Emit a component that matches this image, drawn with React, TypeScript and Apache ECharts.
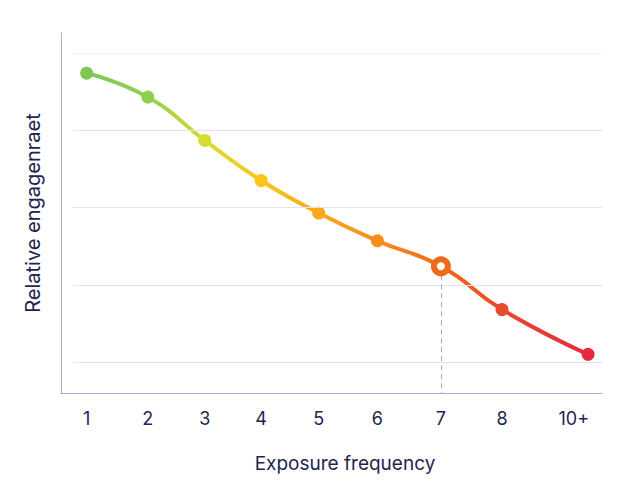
import React, { useEffect, useRef } from "react";
import * as echarts from "echarts";

const categories = ["1", "2", "3", "4", "5", "6", "7", "8", "10+"];
const xPositions = [1, 2.03, 2.99, 3.94, 4.91, 5.9, 6.97, 8.0, 9.45];
const labelPositions = [1, 2.03, 2.99, 3.94, 4.91, 5.9, 6.97, 8.0, 9.21];
const values = [47.4, 44.3, 38.7, 33.5, 29.3, 25.7, 22.4, 16.8, 11.0];
const pointColors = ["#7dc855", "#8fcf50", "#d6dc30", "#fcc419", "#f9a91b", "#f48e1e", "#ef6a1b", "#e84a2c", "#e5293f"];
const gridValues = [10, 20, 30, 40, 50];
const highlightIndex = 6;
const xTitle = "Exposure frequency";
const yTitle = "Relative engagenraet";

const Y_MIN = 6;
const Y_MAX = 52.6;
const X_MIN = 0.567;
const X_MAX = 9.685;

export default function App() {
  const ref = useRef<HTMLDivElement>(null);
  useEffect(() => {
    if (!ref.current) return;
    const chart = echarts.init(ref.current, null, { renderer: "svg" });
    const xFirst = xPositions[0];
    const xLast = xPositions[xPositions.length - 1];
    const stops = xPositions.map((x, i) => ({ offset: (x - xFirst) / (xLast - xFirst), color: pointColors[i] }));
    const font = "Inter, 'Noto Sans', sans-serif";
    chart.setOption({
      animation: false,
      backgroundColor: "#ffffff",
      textStyle: { fontFamily: font },
      grid: [
        { left: 61, right: 19, top: 33, bottom: 93 },
        { left: 73, right: 19, top: 33, bottom: 93 },
      ],
      graphic: [
        {
          type: "text",
          x: 345,
          y: 463,
          silent: true,
          style: {
            text: xTitle,
            fontSize: 19,
            fontFamily: font,
            fill: "#1f2550",
            align: "center",
            verticalAlign: "middle",
          },
        },
      ],
      xAxis: [
        {
          type: "value",
          gridIndex: 0,
          min: X_MIN,
          max: X_MAX,
          axisLine: { show: true, lineStyle: { color: "#a8aacb", width: 1 } },
          axisTick: { show: false },
          splitLine: { show: false },
          axisLabel: {
            customValues: labelPositions,
            margin: 16,
            fontSize: 18,
            color: "#1f2550",
            fontFamily: font,
            formatter: (v: number) => {
              const idx = labelPositions.findIndex((p) => Math.abs(p - v) < 1e-6);
              return idx >= 0 ? categories[idx] : "";
            },
          },
        },
        { type: "value", gridIndex: 1, min: 0, max: 1, show: false },
      ],
      yAxis: [
        {
          type: "value",
          gridIndex: 0,
          min: Y_MIN,
          max: Y_MAX,
          axisLine: { show: true, lineStyle: { color: "#a8aacb", width: 1 } },
          axisTick: { show: false },
          axisLabel: { show: false },
          splitLine: { show: false },
          name: yTitle,
          nameLocation: "middle",
          nameRotate: 90,
          nameGap: 18,
          nameTextStyle: { fontSize: 20, color: "#1f2550", fontFamily: font },
        },
        { type: "value", gridIndex: 1, min: Y_MIN, max: Y_MAX, show: false },
      ],
      series: [
        {
          type: "line",
          xAxisIndex: 1,
          yAxisIndex: 1,
          data: [[0, gridValues[0]]],
          showSymbol: false,
          lineStyle: { opacity: 0 },
          silent: true,
          z: 0,
          markLine: {
            silent: true,
            symbol: ["none", "none"],
            label: { show: false },
            data: gridValues.map((v, i) => ({
              yAxis: v,
              lineStyle: {
                color: "#e2e3f0",
                width: 1,
                type: i === gridValues.length - 1 ? "dotted" : "solid",
              },
            })),
          },
        },
        {
          type: "line",
          xAxisIndex: 0,
          yAxisIndex: 0,
          smooth: 0.5,
          symbol: "circle",
          symbolSize: 13,
          z: 3,
          lineStyle: {
            width: 4,
            color: new echarts.graphic.LinearGradient(0, 0, 1, 0, stops),
          },
          data: xPositions.map((x, i) => ({
            value: [x, values[i]],
            itemStyle: { color: pointColors[i] },
            symbolSize: i === highlightIndex ? 0 : 13,
          })),
          markLine: {
            silent: true,
            symbol: ["none", "none"],
            label: { show: false },
            lineStyle: { color: "#a3a5cc", width: 1, type: [5, 4] },
            data: [
              [
                { coord: [xPositions[highlightIndex], values[highlightIndex]] },
                { coord: [xPositions[highlightIndex], Y_MIN] },
              ],
            ],
          },
        },
        {
          type: "scatter",
          xAxisIndex: 0,
          yAxisIndex: 0,
          z: 5,
          symbol: "circle",
          symbolSize: 14,
          itemStyle: { color: "#ffffff", borderColor: pointColors[highlightIndex], borderWidth: 6, opacity: 1 },
          data: [[xPositions[highlightIndex], values[highlightIndex]]],
        },
      ],
    });
    return () => chart.dispose();
  }, []);
  return <div ref={ref} style={{ width: 621, height: 486, position: "absolute", left: 0, top: 0 }} />;
}
